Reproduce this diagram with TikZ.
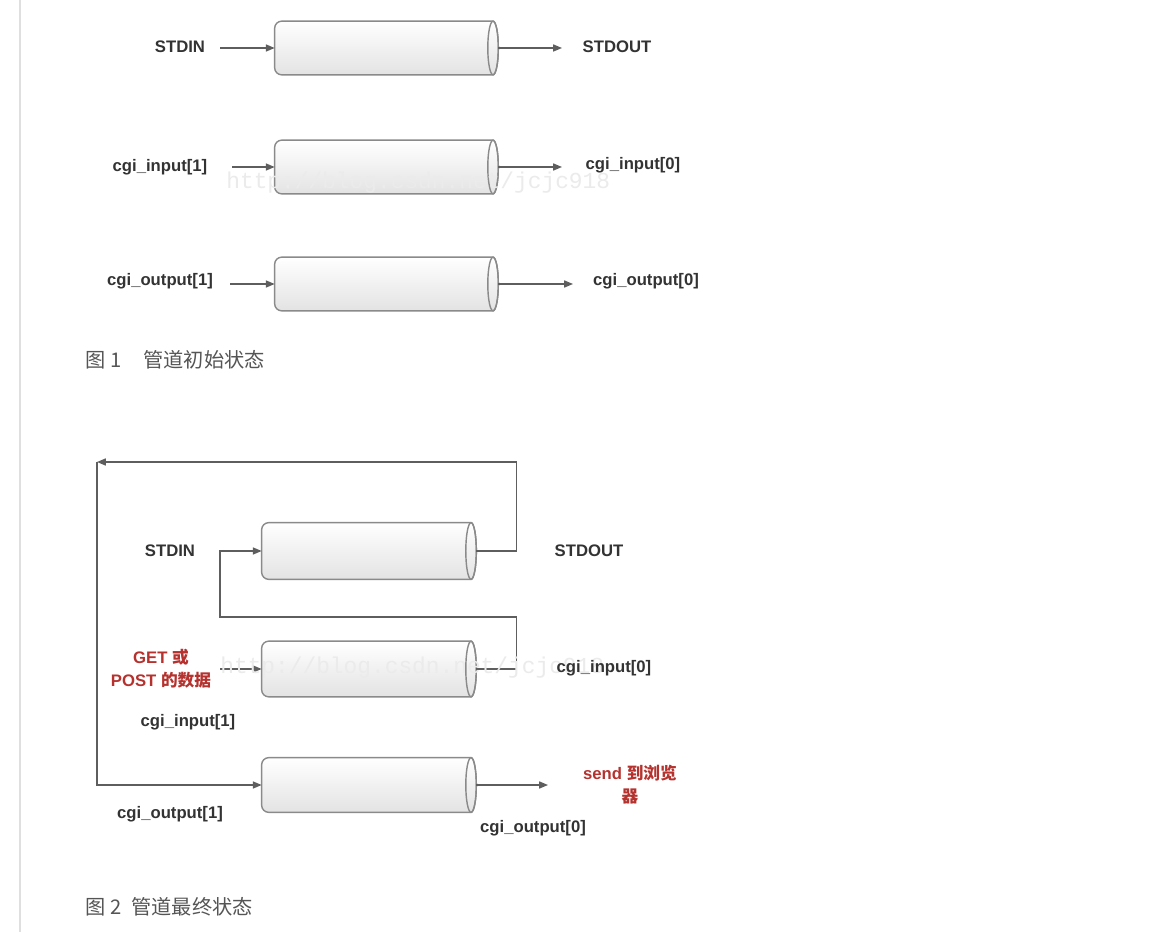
\documentclass[tikz,border=0pt]{standalone}
\usepackage{fontspec}
\setmainfont{Liberation Sans}
\newfontfamily\cjk{Noto Sans CJK SC}
\newfontfamily\markfont{Liberation Mono}
\newcommand{\zhtext}[1]{{\cjk #1}}
\usetikzlibrary{calc,arrows.meta}
\definecolor{linegray}{HTML}{5E5E5E}
\definecolor{pipeline}{HTML}{8A8A8A}
\definecolor{labred}{HTML}{B5322E}
\definecolor{capgray}{HTML}{555555}
\tikzset{
  pipe/.style={rectangle, draw=none, inner sep=0pt},
  pipeskin/.style={draw=pipeline, line width=0.8pt, top color=white, bottom color=gray!22},
  flow/.style={draw=linegray, line width=0.7pt, -{Triangle[length=5pt,width=4pt]}},
  lab/.style={font=\bfseries\fontsize{9.5}{11}\selectfont, text=black!80, inner sep=0pt},
  redlab/.style={font=\bfseries\fontsize{9.5}{13}\selectfont, text=labred, inner sep=0pt, align=center},
  caption/.style={font=\cjk\fontsize{11.5}{13}\selectfont, text=capgray, anchor=west, inner sep=0pt},
  watermark/.style={font=\markfont\fontsize{13}{14}\selectfont, text=gray!16, inner sep=0pt}
}
% body of a pipe drawn round a named node: rounded left end, open ellipse on the right
\newcommand{\pipebody}[1]{%
  \path[pipeskin] let \p1=(#1.north), \p2=(#1.south), \n1={(\y1-\y2)/2} in
    ([xshift=-3pt]#1.north east) -- ([xshift=4pt]#1.north west)
    arc[start angle=90, end angle=180, radius=4pt] -- ([yshift=4pt]#1.south west)
    arc[start angle=180, end angle=270, radius=4pt] -- ([xshift=-3pt]#1.south east)
    arc[start angle=-90, end angle=90, x radius=3pt, y radius=\n1] -- cycle;
  \draw[pipeline, line width=0.8pt] let \p1=(#1.north), \p2=(#1.south), \n1={(\y1-\y2)/2} in
    ([xshift=-3pt]#1.east) ellipse[x radius=3pt, y radius=\n1];
}
\begin{document}
\begin{tikzpicture}[x=0.02cm, y=-0.02cm]
\useasboundingbox (0,0) rectangle (1150,932);
\fill[white] (0,0) rectangle (1150,932);
\draw[gray!25, line width=1.5pt] (20,0) -- (20,932);

% figure 1: initial state
\node[pipe, minimum width=4.46cm, minimum height=1.06cm] (p1) at (386.5,48) {};
\node[pipe, minimum width=4.46cm, minimum height=1.06cm] (p2) at (386.5,167) {};
\node[pipe, minimum width=4.46cm, minimum height=1.06cm] (p3) at (386.5,284) {};
\pipebody{p1}
\pipebody{p2}
\pipebody{p3}

\coordinate (s1) at (220,48);
\coordinate (s2) at (232,167);
\coordinate (s3) at (230,284);
\coordinate (e1) at (562,48);
\coordinate (e2) at (562,167);
\coordinate (e3) at (573,284);
\draw[flow] (s1) -- (p1.west);
\draw[flow] (s2) -- (p2.west);
\draw[flow] (s3) -- (p3.west);
\draw[flow] (p1.east) -- (e1);
\draw[flow] (p2.east) -- (e2);
\draw[flow] (p3.east) -- (e3);

\node[watermark, anchor=west] (wm1) at (226,183) {http://blog.csdn.net/jcjc918};

\node[lab] (stdin1) at (180,47) {STDIN};
\node[lab] (stdout1) at (617,47) {STDOUT};
\node[lab] (in1a) at (160,167) {cgi\_input[1]};
\node[lab] (in0a) at (633,165) {cgi\_input[0]};
\node[lab] (out1a) at (160,281) {cgi\_output[1]};
\node[lab] (out0a) at (646,281) {cgi\_output[0]};

\node[caption] (cap1) at (85,360) {图 1\hspace{1.1em}管道初始状态};

% figure 2: final state
\node[pipe, minimum width=4.28cm, minimum height=1.12cm] (p4) at (369,551) {};
\node[pipe, minimum width=4.28cm, minimum height=1.1cm] (p5) at (369,669) {};
\node[pipe, minimum width=4.28cm, minimum height=1.08cm] (p6) at (369,785) {};
\pipebody{p4}
\pipebody{p5}
\pipebody{p6}

\coordinate (tl) at (97,462);
\coordinate (jn) at (220,617);
\coordinate (g0) at (220,669);
\coordinate (e6) at (548,785);
\draw[flow] (p4.east) -- ++(40,0) |- (tl);
\draw[flow] (tl) |- (p6.west);
\draw[flow] (p5.east) -- ++(40,0) |- (jn) |- (p4.west);
\draw[flow] (g0) -- (p5.west);
\draw[flow] (p6.east) -- (e6);

\node[watermark, anchor=west] (wm2) at (220,668) {http://blog.csdn.net/jcjc918};

\node[lab] (stdin2) at (170,551) {STDIN};
\node[lab] (stdout2) at (589,551) {STDOUT};
\node[lab] (in0b) at (604,668) {cgi\_input[0]};
\node[lab] (in1b) at (188,722) {cgi\_input[1]};
\node[lab] (out1b) at (170,814) {cgi\_output[1]};
\node[lab] (out0b) at (533,828) {cgi\_output[0]};
\node[redlab] (post) at (161,669) {GET \zhtext{或}\\POST \zhtext{的数据}};
\node[redlab] (send) at (630,785) {send \zhtext{到浏览}\\\zhtext{器}};

\node[caption] (cap2) at (85,907) {图 2\hspace{0.5em}管道最终状态};
\end{tikzpicture}
\end{document}
